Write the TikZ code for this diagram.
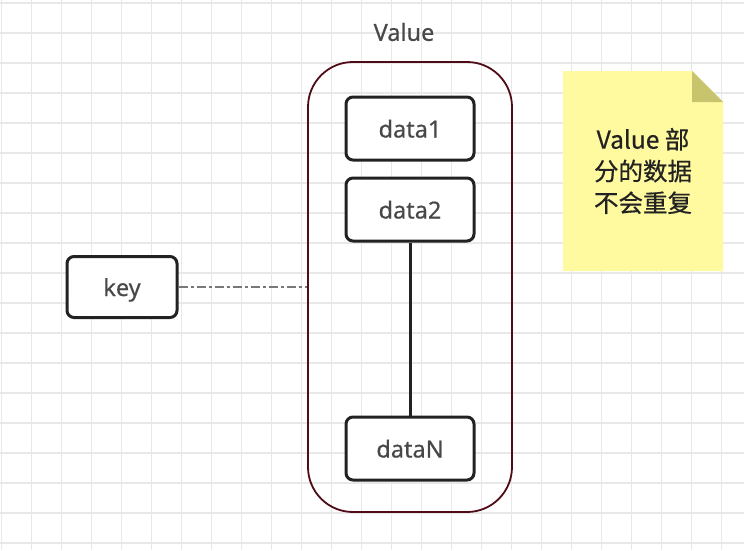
\documentclass[tikz,border=0pt]{standalone}
\usepackage{fontspec}
\setmainfont{Noto Sans}[BoldFont={Noto Sans}, BoldFeatures={FakeBold=0.5}]
\newfontfamily\cjk{Noto Sans CJK SC}[BoldFont={Noto Sans CJK SC}, BoldFeatures={FakeBold=0.6}]
\definecolor{gridc}{RGB}{232,232,232}
\definecolor{boxc}{RGB}{34,34,34}
\definecolor{txtc}{RGB}{72,72,72}
\definecolor{contc}{RGB}{80,12,22}
\definecolor{notey}{RGB}{255,250,160}
\definecolor{notef}{RGB}{200,196,110}
\definecolor{linkc}{RGB}{120,120,120}
\tikzset{
  databox/.style={draw=boxc, line width=3pt, rounded corners=7pt, fill=white,
    minimum width=128pt, minimum height=63pt, inner sep=0pt, text=txtc,
    text height=21pt, text depth=3pt,
    font=\bfseries\fontsize{23.5}{28}\selectfont},
  lbl/.style={text=txtc, font=\bfseries\fontsize{23.5}{28}\selectfont, inner sep=0pt},
}
\begin{document}
\begin{tikzpicture}[x=1pt,y=-1pt]
\useasboundingbox (0,0) rectangle (744,550);
\fill[white] (0,0) rectangle (744,550);
% grid
\foreach \i in {0,...,24} {\draw[gridc, line width=1.5pt] (1.7+30*\i,0) -- (1.7+30*\i,550);}
\foreach \j in {0,...,18} {\draw[gridc, line width=1.5pt] (0,3+30*\j) -- (744,3+30*\j);}
% container
\node[draw=contc, line width=1.8pt, rounded corners=45pt, minimum width=204pt, minimum height=450pt, inner sep=0pt] (cont) at (410,287) {};
\node[lbl] (vlabel) at (404,32) {Value};
% data boxes
\node[databox] (d1) at (410,128.5) {data1};
\node[databox] (d2) at (410,209.5) {data2};
\node[databox] (dn) at (410,448.5) {dataN};
\draw[boxc, line width=3pt] (d2.south) -- (dn.north);
% key
\node[databox, minimum width=110pt, minimum height=61pt] (key) at (122,287) {key};
\draw[linkc, line width=2.5pt, dash pattern=on 9pt off 3pt on 3pt off 3pt] (key.east) -- (cont.west);
% note
\coordinate (n1) at (563,71);
\coordinate (n2) at (692,71);
\coordinate (n3) at (723,102);
\coordinate (n4) at (723,271);
\coordinate (n5) at (563,271);
\coordinate (n6) at (692,102);
\fill[notey] (n1) -- (n2) -- (n3) -- (n4) -- (n5) -- cycle;
\fill[notef] (n2) -- (n3) -- (n6) -- cycle;
\node[align=center, text=boxc, font=\cjk\bfseries\fontsize{24.5}{31.7}\selectfont, inner sep=0pt] (ntext) at (643,171) {Value 部\\分的数据\\不会重复};
\end{tikzpicture}
\end{document}
